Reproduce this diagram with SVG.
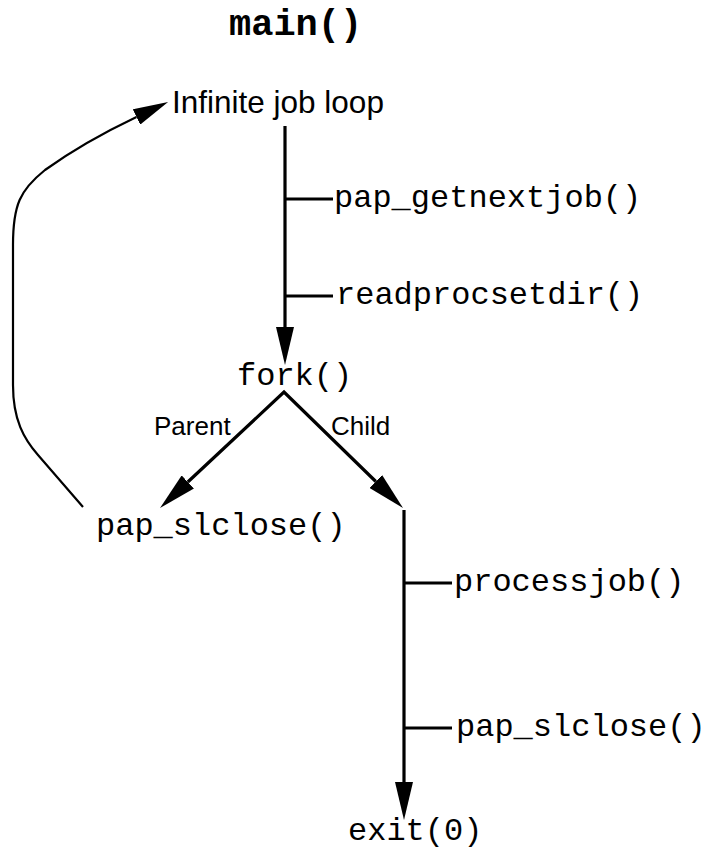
<svg xmlns="http://www.w3.org/2000/svg" width="704" height="852" viewBox="0 0 704 852">
<style>
.mono{font-family:"Liberation Mono","Courier New",monospace;font-size:32px;fill:#000}
.sans{font-family:"Liberation Sans",Arial,sans-serif;fill:#000}
.ln{fill:none;stroke:#000;stroke-width:3.2;stroke-linejoin:miter}
.thin{fill:none;stroke:#000;stroke-width:2.2}
</style>
<defs>
<marker id="ah" markerUnits="userSpaceOnUse" viewBox="0 0 38 18" markerWidth="38" markerHeight="18" refX="0" refY="9" orient="auto-start-reverse">
<path d="M0,0 L38,9 L0,18 z" fill="#000"/>
</marker>
<marker id="ah2" markerUnits="userSpaceOnUse" viewBox="0 0 35 17" markerWidth="35" markerHeight="17" refX="0" refY="8.5" orient="auto">
<path d="M0,0 L35,8.5 L0,17 z" fill="#000"/>
</marker>
</defs>
<g id="title"><text class="mono" x="229" y="35" style="font-weight:bold;font-size:37px">main()</text></g>
<g id="loop"><text class="sans" x="172" y="113" font-size="31.5">Infinite job loop</text></g>
<g id="getnextjob"><text class="mono" x="334" y="207">pap_getnextjob()</text></g>
<g id="readprocsetdir"><text class="mono" x="336" y="304">readprocsetdir()</text></g>
<g id="fork"><text class="mono" x="237" y="385">fork()</text></g>
<g id="parent-label"><text class="sans" x="154" y="435" font-size="26">Parent</text></g>
<g id="child-label"><text class="sans" x="331" y="435" font-size="26">Child</text></g>
<g id="slclose-parent"><text class="mono" x="96" y="535">pap_slclose()</text></g>
<g id="processjob"><text class="mono" x="454" y="591">processjob()</text></g>
<g id="slclose-child"><text class="mono" x="456" y="736">pap_slclose()</text></g>
<g id="exit"><text class="mono" x="348" y="840">exit(0)</text></g>
<g id="connectors">
<path class="ln" d="M285 126 L285 327" marker-end="url(#ah)"/>
<path class="ln" d="M285 199 H333 M285 296 H333"/>
<path class="ln" d="M187.8 482 L284 392 L375.8 481.5" marker-start="url(#ah)" marker-end="url(#ah)"/>
<path class="ln" d="M404 510 L404 782" marker-end="url(#ah)"/>
<path class="ln" d="M404 583 H452 M404 728 H452"/>
<path class="thin" d="M83 507 L38 455 C24 439 13 420 13 385 L13 245 C13 205 20 190 45 170 C70 152 105 132 136.5 117" marker-end="url(#ah2)"/>
</g>
</svg>
